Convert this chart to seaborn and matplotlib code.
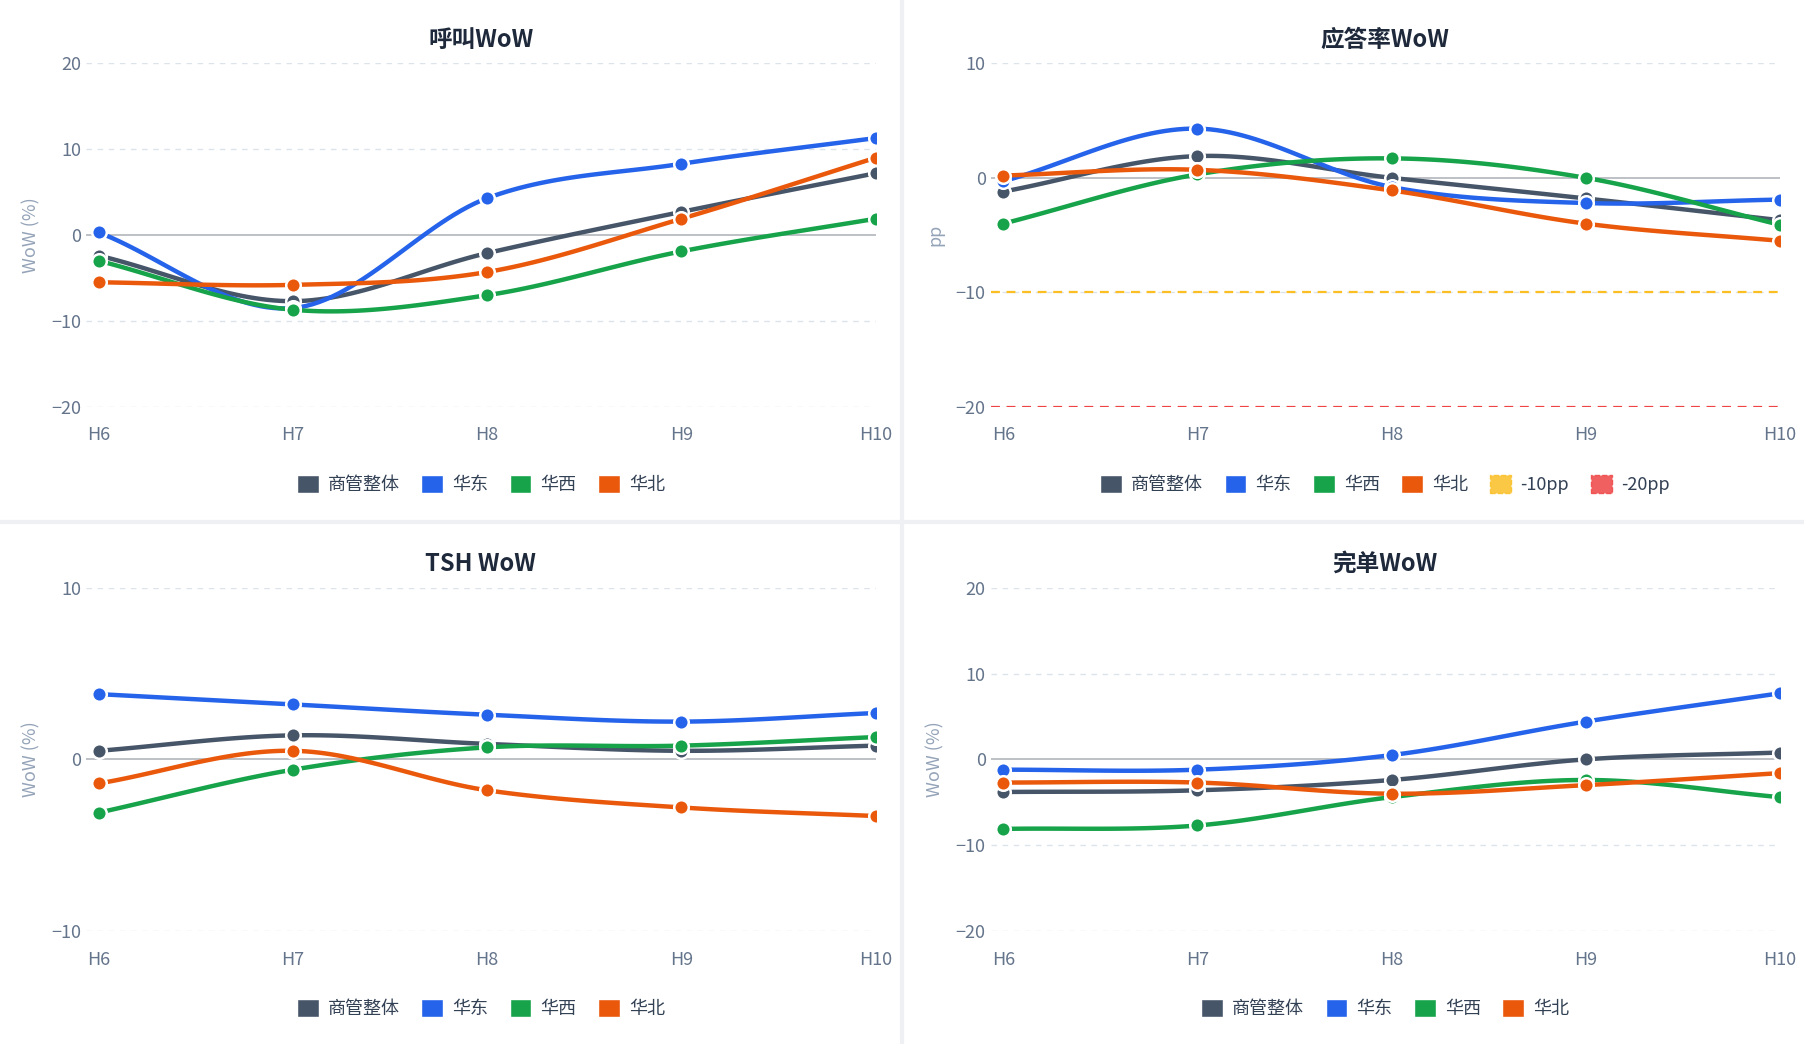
import numpy as np
import pandas as pd
import matplotlib
matplotlib.use("Agg")
import matplotlib.pyplot as plt
from matplotlib.patches import Patch
from matplotlib.lines import Line2D
import seaborn as sns

sns.set_theme(style="white")
plt.rcParams['font.family'] = ['Noto Sans CJK SC', 'DejaVu Sans']

weeks = ["H6", "H7", "H8", "H9", "H10"]
series = ["商管整体", "华东", "华西", "华北"]
colors = ["#475569", "#2563eb", "#16a34a", "#ea580c"]

call_vals = {
    "商管整体": [-2.4, -7.7, -2.1, 2.7, 7.2],
    "华东": [0.3, -8.5, 4.3, 8.3, 11.3],
    "华西": [-3.0, -8.7, -7.0, -1.9, 1.9],
    "华北": [-5.5, -5.8, -4.3, 1.9, 9.0],
}
ans_vals = {
    "商管整体": [-1.2, 1.9, 0.0, -1.8, -3.7],
    "华东": [-0.3, 4.3, -0.8, -2.2, -1.9],
    "华西": [-4.0, 0.3, 1.7, 0.0, -4.1],
    "华北": [0.2, 0.7, -1.1, -4.0, -5.5],
}
tsh_vals = {
    "商管整体": [0.5, 1.4, 0.9, 0.5, 0.8],
    "华东": [3.8, 3.2, 2.6, 2.2, 2.7],
    "华西": [-3.1, -0.6, 0.7, 0.8, 1.3],
    "华北": [-1.4, 0.5, -1.8, -2.8, -3.3],
}
done_vals = {
    "商管整体": [-3.8, -3.6, -2.4, 0.0, 0.8],
    "华东": [-1.2, -1.2, 0.5, 4.4, 7.7],
    "华西": [-8.1, -7.7, -4.4, -2.4, -4.4],
    "华北": [-2.7, -2.7, -4.0, -3.0, -1.6],
}
ref_lines = [(-10, "#fbbf24", "-10pp"), (-20, "#ef4444", "-20pp")]

def smooth(y, n=30):
    y = np.asarray(y, float)
    p = np.concatenate([[2*y[0]-y[1]], y, [2*y[-1]-y[-2]]])
    xs, ys = [], []
    for i in range(len(y)-1):
        p0, p1, p2, p3 = p[i], p[i+1], p[i+2], p[i+3]
        t = np.linspace(0, 1, n, endpoint=False)
        c = 0.5*((2*p1) + (-p0+p2)*t + (2*p0-5*p1+4*p2-p3)*t**2 + (-p0+3*p1-3*p2+p3)*t**3)
        xs.append(i+t); ys.append(c)
    xs.append([len(y)-1]); ys.append([y[-1]])
    return np.concatenate(xs), np.concatenate(ys)

fig = plt.figure(figsize=(18.04, 10.44), dpi=100)
W, H = 1568, 906

def panel(rect, title, data, ylim, ticks, ylabel, refs=False):
    l, t, r, b = rect
    ax = fig.add_axes([l/W, 1-b/H, (r-l)/W, (b-t)/H])
    ax.set_xlim(-0.065, 4.0)
    ax.set_ylim(*ylim)
    for tk in ticks:
        if tk == 0:
            ax.axhline(0, color="#b8bcc2", lw=1.3, zorder=1)
        else:
            ax.axhline(tk, color="#dde3ea", lw=1, ls=(0, (4, 4)), zorder=1)
    if refs:
        for v, c, _ in ref_lines:
            ax.axhline(v, color=c, lw=1.6, ls=(0, (4, 3)), zorder=1)
    for s, c in zip(series, colors):
        xs, ys = smooth(data[s])
        sns.lineplot(x=xs, y=ys, color=c, lw=3.2, ax=ax, zorder=3, sort=False)
        sns.scatterplot(x=np.arange(5), y=data[s], color=c, s=110, edgecolor="white",
                        linewidth=1.8, ax=ax, zorder=4)
    ax.set_xticks(range(5)); ax.set_xticklabels(weeks)
    ax.set_yticks(ticks)
    ax.tick_params(colors="#64748b", labelsize=13, length=0)
    ax.tick_params(axis="x", pad=14)
    for sp in ax.spines.values():
        sp.set_visible(False)
    ax.set_ylabel(ylabel, color="#94a3b8", fontsize=13, labelpad=8)
    ax.set_title(title, fontsize=17, fontweight="bold", color="#1e293b", pad=12)
    handles = [Patch(facecolor=c, label=s) for s, c in zip(series, colors)]
    if refs:
        for v, c, lab in ref_lines:
            handles.append(Patch(facecolor=c, alpha=0.85, edgecolor=c, ls="--", label=lab))
    ax.legend(handles=handles, loc="upper center", bbox_to_anchor=(0.5, -0.15), ncol=len(handles),
              frameon=False, fontsize=13, handlelength=1.2, handleheight=1.2,
              columnspacing=1.2, handletextpad=0.5, labelcolor="#334155")
    return ax

panel((75, 55, 761, 353), "呼叫WoW", call_vals, (-20, 20), [-20, -10, 0, 10, 20], "WoW (%)")
panel((861, 55, 1547, 353), "应答率WoW", ans_vals, (-20, 10), [-20, -10, 0, 10], "pp", refs=True)
panel((75, 510, 761, 808), "TSH WoW", tsh_vals, (-10, 10), [-10, 0, 10], "WoW (%)")
panel((861, 510, 1547, 808), "完单WoW", done_vals, (-20, 20), [-20, -10, 0, 10, 20], "WoW (%)")

fig.add_artist(Line2D([784/W, 784/W], [0, 1], color="#eef0f3", lw=3))
fig.add_artist(Line2D([0, 1], [1-453/H, 1-453/H], color="#eef0f3", lw=3))

fig.savefig("out.png", dpi=100, facecolor="white")
